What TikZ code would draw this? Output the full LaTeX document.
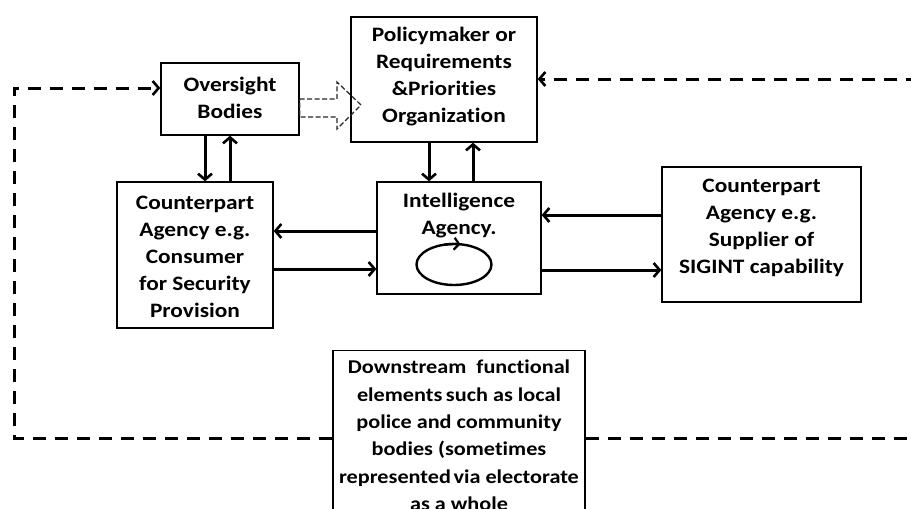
\documentclass[tikz,border=0pt]{standalone}
\usepackage{fontspec}
\setmainfont{Carlito}[FakeStretch=1.14, RawFeature=-liga]
\usetikzlibrary{arrows.meta,calc}

\begin{document}
\begin{tikzpicture}[x=1pt,y=-1pt,
  box/.style={draw, line width=1.3pt, inner sep=0pt},
  txt/.style={align=center, inner sep=0pt, font=\bfseries\fontsize{20.5}{27}\selectfont},
  smalltxt/.style={txt, font=\bfseries\fontsize{19.5}{27.3}\selectfont},
  tip/.style={-{Straight Barb[length=6pt,width=14pt,line width=2.6pt]}},
  flow/.style={line width=3pt, tip},
  loopline/.style={line width=3pt, dash pattern=on 13pt off 9pt},
  loopend/.style={loopline, tip},
  hollow/.style={draw=black!85, line width=1.2pt, dash pattern=on 5pt off 2.5pt}]

  \fill[white] (0,0) rectangle (911,509);
  \clip (0,0) rectangle (911,509);

  % boxes and their labels
  \node[box, minimum width=138pt, minimum height=72pt] (over) at (230,99) {};
  \node[txt] (overt) at (230,97.5) {Oversight\\Bodies};

  \node[box, minimum width=186pt, minimum height=125pt] (pol) at (444,79.5) {};
  \node[txt] (polt) at (444,76.5) {Policymaker or\\Requirements\\\&Priorities\\Organization};

  \node[box, minimum width=164pt, minimum height=112pt] (intel) at (459,238) {};
  \node[txt] (intelt) at (459,216) {Intelligence\\Agency.};

  \node[box, minimum width=156pt, minimum height=146pt] (cons) at (195,255) {};
  \node[txt] (const) at (195,257) {Counterpart\\Agency e.g.\\Consumer\\for Security\\Provision};

  \node[box, minimum width=199pt, minimum height=135pt] (supp) at (761.5,234.5) {};
  \node[txt] (suppt) at (761.5,227.5) {Counterpart\\Agency e.g.\\Supplier of\\SIGINT capability};

  \node[box, minimum width=252pt, minimum height=190pt, anchor=north] (down) at (459,350) {};
  \node[smalltxt, anchor=north] (downt) at (459,360)
    {Downstream\ \ functional\\elements\hspace{-1.5pt} such\ as local\\police and community\\bodies (sometimes\\represented\hspace{-2.5pt} via electorate\\as a whole};

  % self-loop inside the agency
  \coordinate (lc) at (454,264.5);
  \draw[line width=2.4pt] (lc) ellipse[x radius=37.5pt, y radius=20.5pt];
  \draw[line width=2.4pt, -{Straight Barb[length=5pt,width=12pt,line width=2.2pt]}]
    ($(lc)+(105:37.5pt and 20.5pt)$) arc[start angle=105, end angle=80, x radius=37.5pt, y radius=20.5pt];

  % vertical exchanges
  \draw[flow] (over.south -| 205,0) -- (cons.north -| 205,0);
  \draw[flow] (cons.north -| 230,0) -- (over.south -| 230,0);
  \draw[flow] (pol.south -| 429,0) -- (intel.north -| 429,0);
  \draw[flow] (intel.north -| 473,0) -- (pol.south -| 473,0);

  % horizontal exchanges
  \draw[flow] (intel.west |- 0,231) -- (cons.east |- 0,231);
  \draw[flow] (cons.east |- 0,269) -- (intel.west |- 0,269);
  \draw[flow] (supp.west |- 0,215) -- (intel.east |- 0,215);
  \draw[flow] (intel.east |- 0,270) -- (supp.west |- 0,270);

  % hollow dashed arrow from oversight to policymaker
  \draw[hollow] (over.east |- 0,99) -- (337,99) -- (337,82) -- (361,105)
    -- (337,129) -- (337,117) -- (over.east |- 0,117) -- cycle;

  % feedback loop from the downstream elements
  \coordinate (fl) at (14,438);
  \coordinate (fr) at (925,438);
  \draw[loopend] (down.west |- fl) -- (fl) -- (14,88) -- (over.west |- 0,88);
  \draw[loopend] (down.east |- fr) -- (fr) -- (925,79) -- (pol.east |- 0,79);
\end{tikzpicture}
\end{document}
